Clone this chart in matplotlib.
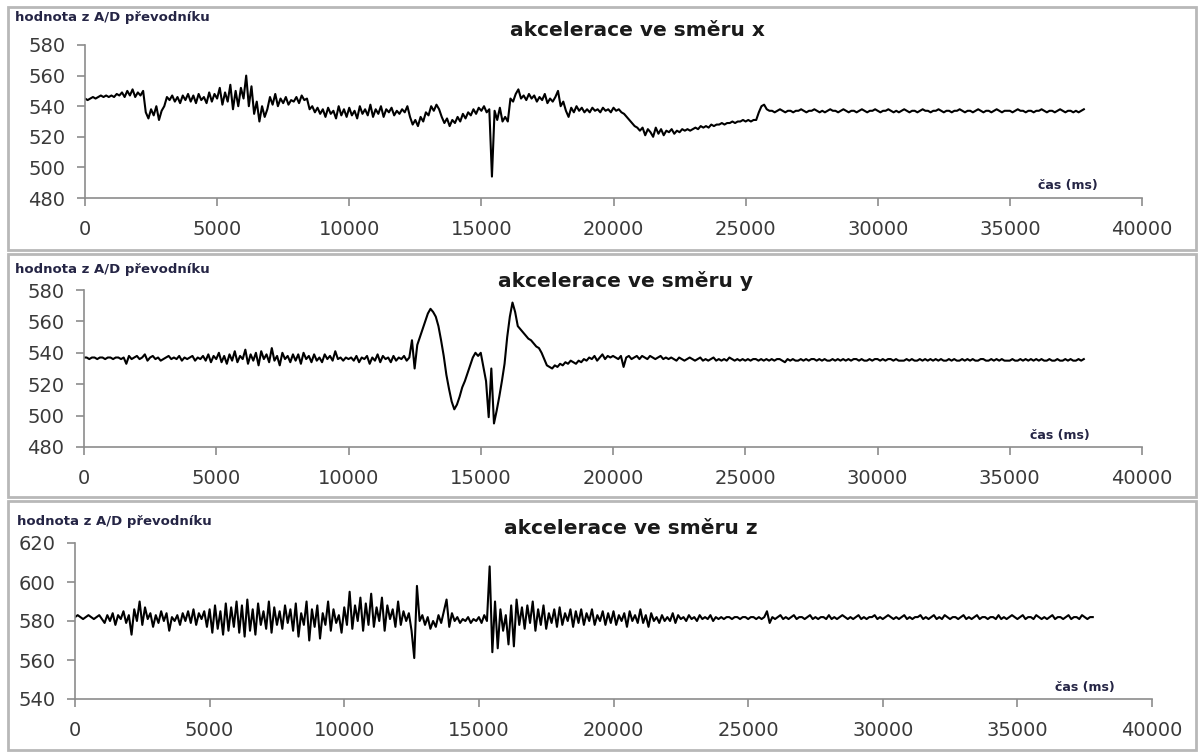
import numpy as np
import matplotlib
matplotlib.use('Agg')
import matplotlib.pyplot as plt
from matplotlib.patches import Rectangle

# hodnoty, vzorkovani po 100 ms (0 .. 37800 ms)
acc_x = [
    545, 544, 545, 546, 545, 546, 547, 546, 547, 546,
    547, 546, 548, 547, 549, 546, 550, 547, 551, 546,
    549, 547, 550, 536, 532, 538, 534, 540, 531, 537,
    540, 546, 544, 547, 543, 546, 542, 547, 544, 548,
    543, 547, 542, 548, 544, 546, 542, 549, 543, 548,
    545, 552, 541, 549, 543, 554, 538, 550, 540, 552,
    545, 560, 540, 553, 535, 543, 530, 540, 533, 538,
    546, 541, 548, 540, 545, 542, 546, 541, 544, 543,
    546, 542, 547, 544, 545, 538, 540, 536, 539, 535,
    538, 533, 539, 535, 537, 532, 540, 534, 538, 533,
    539, 534, 537, 532, 540, 535, 538, 534, 541, 533,
    538, 535, 540, 533, 538, 536, 539, 534, 537, 535,
    538, 536, 540, 533, 528, 531, 527, 533, 530, 536,
    534, 540, 537, 541, 538, 533, 529, 532, 527, 531,
    529, 533, 530, 535, 532, 536, 534, 538, 535, 539,
    537, 540, 536, 538, 494, 537, 531, 539, 530, 533,
    530, 545, 543, 548, 551, 545, 547, 544, 548, 545,
    547, 543, 546, 544, 548, 542, 545, 543, 546, 550,
    540, 543, 537, 533, 539, 536, 540, 537, 539, 536,
    538, 536, 539, 537, 538, 536, 539, 537, 538, 536,
    539, 537, 538, 536, 535, 533, 531, 529, 527, 526,
    524, 526, 521, 525, 523, 520, 526, 522, 525, 521,
    524, 523, 525, 522, 524, 523, 525, 524, 525, 524,
    525, 526, 525, 527, 526, 527, 526, 528, 527, 528,
    528, 529, 528, 529, 529, 530, 529, 530, 530, 531,
    530, 531, 530, 531, 531, 536, 540, 541, 538, 537,
    537, 536, 537, 538, 537, 536, 537, 537, 536, 537,
    537, 538, 537, 536, 537, 537, 538, 537, 536, 537,
    536, 537, 538, 537, 537, 536, 537, 538, 537, 536,
    537, 537, 536, 537, 538, 537, 536, 537, 537, 538,
    537, 536, 537, 537, 538, 537, 536, 537, 536, 537,
    538, 537, 536, 537, 537, 536, 537, 538, 537, 537,
    536, 537, 537, 538, 537, 536, 537, 537, 536, 537,
    537, 538, 537, 536, 537, 537, 536, 537, 538, 537,
    536, 537, 537, 536, 537, 538, 537, 536, 537, 537,
    537, 536, 537, 538, 537, 537, 536, 537, 537, 536,
    537, 537, 538, 537, 536, 537, 537, 536, 537, 538,
    537, 536, 537, 537, 536, 537, 536, 537, 538,
]

acc_y = [
    537, 537, 536, 537, 537, 536, 537, 537, 536, 537,
    537, 536, 537, 537, 536, 537, 533, 538, 536, 537,
    538, 536, 537, 539, 535, 537, 538, 536, 537, 535,
    536, 537, 538, 536, 537, 536, 538, 535, 537, 536,
    537, 538, 535, 537, 536, 538, 535, 539, 534, 538,
    536, 540, 534, 538, 533, 539, 535, 541, 534, 538,
    536, 542, 533, 539, 535, 540, 532, 541, 536, 539,
    534, 543, 535, 538, 532, 540, 536, 538, 534, 539,
    535, 539, 533, 540, 536, 538, 534, 539, 535, 537,
    534, 539, 536, 538, 535, 541, 536, 537, 535, 537,
    536, 537, 535, 538, 534, 537, 536, 538, 533, 537,
    535, 539, 534, 538, 536, 537, 534, 538, 535, 537,
    536, 538, 535, 537, 548, 530, 545, 550, 555, 560,
    565, 568, 566, 563, 557, 548, 538, 526, 517, 509,
    504, 507, 512, 518, 522, 527, 532, 537, 540, 538,
    540, 531, 522, 499, 530, 495, 503, 512, 522, 533,
    550, 563, 572, 566, 557, 555, 553, 551, 549, 548,
    546, 544, 543, 540, 536, 532, 531, 530, 532, 531,
    533, 532, 534, 533, 535, 534, 533, 535, 534, 536,
    535, 537, 536, 538, 535, 537, 539, 536, 538, 537,
    538, 537, 536, 538, 531, 537, 538, 536, 537, 538,
    536, 538, 537, 536, 538, 537, 536, 537, 538, 536,
    537, 536, 537, 536, 535, 537, 536, 535, 536, 537,
    536, 535, 536, 537, 535, 536, 535, 536, 537, 535,
    536, 535, 536, 535, 537, 536, 535, 536, 535, 536,
    535, 536, 535, 536, 536, 535, 536, 535, 536, 535,
    536, 535, 536, 536, 535, 534, 536, 535, 536, 535,
    535, 536, 535, 536, 535, 536, 536, 535, 536, 535,
    536, 535, 535, 536, 535, 536, 535, 536, 535, 536,
    535, 536, 536, 535, 536, 535, 535, 536, 535, 536,
    536, 535, 536, 535, 536, 536, 535, 536, 535, 535,
    535, 536, 535, 536, 535, 535, 536, 535, 536, 535,
    536, 535, 536, 535, 536, 535, 535, 536, 535, 536,
    535, 535, 536, 535, 536, 535, 536, 535, 535, 536,
    536, 535, 535, 536, 535, 536, 535, 536, 535, 535,
    535, 536, 535, 535, 536, 535, 536, 535, 536, 535,
    536, 535, 536, 535, 535, 536, 535, 535, 536, 535,
    535, 536, 535, 536, 535, 535, 536, 535, 536,
]

acc_z = [
    582, 583, 582, 581, 582, 583, 582, 581, 582, 583,
    581, 579, 583, 580, 584, 578, 583, 581, 585, 579,
    583, 573, 586, 580, 590, 578, 587, 581, 584, 577,
    583, 579, 585, 580, 584, 575, 582, 580, 583, 578,
    584, 580, 585, 579, 586, 578, 584, 581, 585, 577,
    586, 574, 588, 576, 585, 573, 589, 575, 587, 577,
    590, 574, 588, 572, 591, 575, 586, 573, 589, 578,
    585, 576, 590, 574, 587, 578, 585, 576, 588, 579,
    586, 575, 589, 572, 584, 578, 590, 570, 586, 577,
    588, 571, 584, 578, 590, 575, 586, 579, 583, 574,
    587, 578, 595, 576, 588, 580, 592, 575, 589, 578,
    594, 577, 587, 580, 592, 575, 588, 581, 586, 577,
    590, 578, 585, 580, 584, 575, 561, 598, 580, 583,
    578, 582, 576, 580, 577, 583, 579, 585, 591, 577,
    584, 580, 582, 579, 581, 580, 582, 579, 581, 580,
    582, 579, 583, 580, 608, 564, 590, 566, 586, 575,
    583, 568, 588, 567, 591, 578, 587, 576, 588, 579,
    590, 575, 586, 578, 588, 576, 584, 579, 586, 577,
    587, 578, 584, 580, 586, 577, 585, 579, 586, 578,
    584, 580, 586, 578, 583, 580, 585, 578, 584, 579,
    585, 578, 583, 580, 584, 577, 585, 580, 583, 579,
    586, 579, 583, 577, 584, 580, 582, 579, 583, 580,
    582, 580, 584, 579, 583, 581, 582, 580, 583, 581,
    582, 580, 583, 581, 582, 581, 583, 580, 582, 581,
    582, 581, 582, 582, 581, 582, 582, 581, 582, 582,
    581, 582, 582, 581, 582, 581, 582, 585, 579, 582,
    581, 582, 583, 581, 582, 581, 582, 583, 581, 582,
    582, 581, 582, 583, 581, 582, 581, 582, 582, 581,
    583, 581, 582, 581, 582, 583, 582, 581, 582, 581,
    582, 583, 581, 582, 581, 582, 582, 583, 581, 582,
    581, 582, 583, 582, 581, 582, 581, 582, 583, 581,
    582, 581, 582, 582, 583, 581, 582, 581, 582, 583,
    581, 582, 581, 583, 582, 581, 582, 582, 581, 582,
    583, 581, 582, 581, 582, 583, 581, 582, 582, 581,
    582, 582, 581, 583, 581, 582, 581, 582, 583, 582,
    581, 582, 583, 581, 582, 582, 581, 583, 582, 581,
    582, 581, 582, 583, 581, 582, 582, 581, 582, 583,
    581, 582, 582, 581, 583, 582, 581, 582, 582,
]

cas = np.arange(len(acc_x)) * 100

titulky = ['akcelerace ve směru x', 'akcelerace ve směru y', 'akcelerace ve směru z']
y_rozsahy = [(480, 580), (480, 580), (540, 620)]
y_kroky = [20, 20, 20]
x_ticky = [0, 5000, 10000, 15000, 20000, 25000, 30000, 35000, 40000]

W, H = 1201, 753
fig = plt.figure(figsize=(W / 100, H / 100), dpi=100)

# pozice os v pixelech (vlevo, vpravo, nahore, dole)
pozice = [(85, 1142, 45, 198), (84, 1142, 290, 447), (75, 1152, 543, 699)]
ramecky = [(8, 7, 1196, 250), (8, 254, 1196, 497), (8, 501, 1196, 750)]
titul_xy = [(637, 31), (625, 281), (631, 529)]
popis_y = [(15, 18), (15, 270), (17, 521)]
popis_x = [(1068, 185), (1060, 435), (1085, 688)]

def px(x, y):
    return x / W, 1 - y / H

for i, data in enumerate([acc_x, acc_y, acc_z]):
    l, r, t, b = pozice[i]
    ax = fig.add_axes([l / W, 1 - b / H, (r - l) / W, (b - t) / H])
    ax.plot(cas, data, color='black', lw=1.5)
    ax.set_xlim(0, 40000)
    ax.set_ylim(*y_rozsahy[i])
    ax.set_xticks(x_ticky)
    ax.set_yticks(np.arange(y_rozsahy[i][0], y_rozsahy[i][1] + 1, y_kroky[i]))
    for s in ['top', 'right']:
        ax.spines[s].set_visible(False)
    for s in ['left', 'bottom']:
        ax.spines[s].set_color('#8c8c8c')
        ax.spines[s].set_linewidth(1.2)
    ax.tick_params(axis='both', colors='#8c8c8c', length=6, width=1.2,
                   labelsize=14, labelcolor='#3a3a3a')
    ax.tick_params(axis='x', pad=10)
    ax.tick_params(axis='y', pad=8)
    ax.patch.set_alpha(0)

    x0, y0, x1, y1 = ramecky[i]
    fig.patches.append(Rectangle(px(x0, y1), (x1 - x0) / W, (y1 - y0) / H,
                                 transform=fig.transFigure, fill=False,
                                 edgecolor='#b8b8b8', lw=2))

    fig.text(*px(*titul_xy[i]), titulky[i], ha='center', va='center',
             fontsize=14.5, fontweight='bold', color='#1a1a1a')
    fig.text(*px(*popis_y[i]), 'hodnota z A/D převodníku', ha='left', va='center',
             fontsize=9.5, fontweight='bold', color='#252545')
    fig.text(*px(*popis_x[i]), 'čas (ms)', ha='center', va='center',
             fontsize=9, fontweight='bold', color='#252545')

fig.savefig('out.png', dpi=100)
